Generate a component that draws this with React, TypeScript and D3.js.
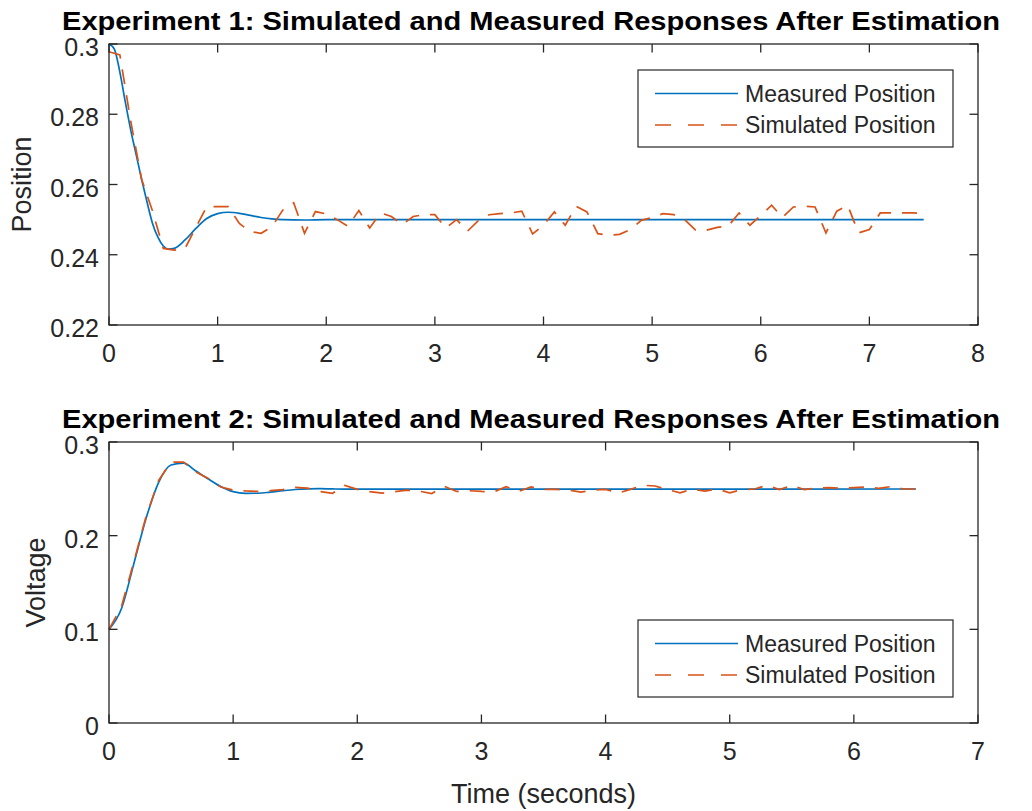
import React from "react";
import * as d3 from "d3";

const W = 1032;
const H = 811;
const DT = 0.1; // sample interval (s) of the sampled series

// ---- Experiment 1 ----
const exp1MeasuredT = [0, 0.05, 0.1, 0.15, 0.2, 0.25, 0.3, 0.35, 0.4, 0.45, 0.5, 0.55, 0.6, 0.7, 0.8, 0.9, 1.0, 1.1, 1.2, 1.3, 1.4, 1.5, 1.6, 1.8, 2.0, 7.5];
const exp1MeasuredV = [0.3, 0.2985, 0.292, 0.2835, 0.2755, 0.2685, 0.2615, 0.255, 0.249, 0.245, 0.2425, 0.2416, 0.2418, 0.2442, 0.2475, 0.2503, 0.2517, 0.2521, 0.2518, 0.2512, 0.2506, 0.2502, 0.25, 0.2499, 0.25, 0.25];
const exp1Simulated = [
  0.2978, 0.2969, 0.278, 0.2615, 0.2525, 0.2418, 0.2413, 0.2418, 0.2478, 0.2537,
  0.2537, 0.2537, 0.2489, 0.2466, 0.2461, 0.248, 0.2527, 0.2548, 0.2461, 0.2523,
  0.2516, 0.25, 0.2481, 0.2526, 0.2476, 0.2519, 0.2509, 0.2486, 0.2509, 0.2514,
  0.2514, 0.2476, 0.25, 0.2467, 0.2497, 0.2514, 0.2517, 0.2519, 0.2524, 0.2459,
  0.2484, 0.2522, 0.2484, 0.2538, 0.2522, 0.246, 0.2455, 0.2458, 0.2472, 0.2498,
  0.2506, 0.2517, 0.2514, 0.25, 0.247, 0.247, 0.2478, 0.2481, 0.2519, 0.2484,
  0.2512, 0.2541, 0.2506, 0.2536, 0.2538, 0.2536, 0.2462, 0.2524, 0.2541, 0.2462,
  0.2472, 0.2519, 0.2519, 0.2519, 0.2519, 0.2517,
];
const exp1XTicks = [0, 1, 2, 3, 4, 5, 6, 7, 8];
const exp1YTicks = [0.22, 0.24, 0.26, 0.28, 0.3];
const exp1YTickLabels = ["0.22", "0.24", "0.26", "0.28", "0.3"];

// ---- Experiment 2 ----
const exp2MeasuredT = [0, 0.1, 0.2, 0.3, 0.4, 0.5, 0.6, 0.7, 0.8, 0.9, 1.0, 1.1, 1.2, 1.3, 1.4, 1.5, 1.6, 1.7, 1.8, 1.9, 2.0, 6.5];
const exp2MeasuredV = [0.1, 0.122, 0.17, 0.219, 0.257, 0.2755, 0.2775, 0.269, 0.2605, 0.2525, 0.247, 0.2452, 0.2453, 0.2465, 0.248, 0.2493, 0.25, 0.2502, 0.2499, 0.2497, 0.2497, 0.2498];
const exp2Simulated = [
  0.1, 0.124, 0.172, 0.221, 0.259, 0.2785, 0.2785, 0.268, 0.261, 0.252,
  0.2487, 0.2478, 0.2472, 0.248, 0.2492, 0.2515, 0.2508, 0.247, 0.2452, 0.2537,
  0.2494, 0.247, 0.2455, 0.247, 0.2487, 0.2475, 0.245, 0.2528, 0.2472, 0.248,
  0.2472, 0.2468, 0.2522, 0.2472, 0.252, 0.2494, 0.2494, 0.2487, 0.2465, 0.2487,
  0.2494, 0.2455, 0.2494, 0.2538, 0.253, 0.2491, 0.2458, 0.2498, 0.2475, 0.2498,
  0.2458, 0.2491, 0.2498, 0.2538, 0.2491, 0.2538, 0.2491, 0.2509, 0.2512, 0.2505,
  0.2512, 0.2519, 0.2505, 0.2524, 0.2498, 0.2498,
];
const exp2XTicks = [0, 1, 2, 3, 4, 5, 6, 7];
const exp2YTicks = [0, 0.1, 0.2, 0.3];
const exp2YTickLabels = ["0", "0.1", "0.2", "0.3"];

const legendLabels = ["Measured Position", "Simulated Position"];

const BLUE = "#0072BD";
const ORANGE = "#D95319";
const AX = "#262626";
const FONT = "'Liberation Sans', Arial, Helvetica, sans-serif";

type PanelProps = {
  top: number;
  xMax: number;
  yDomain: [number, number];
  xTicks: number[];
  yTicks: number[];
  yTickLabels: string[];
  title: string;
  ylabel: string;
  ylabelX: number;
  measT: number[];
  measV: number[];
  sim: number[];
  legendTop: number;
  smoothMeas: boolean;
};

function Panel(p: PanelProps) {
  const left = 109;
  const right = 978;
  const height = 281;
  const bottom = p.top + height;
  const x = d3.scaleLinear().domain([0, p.xMax]).range([left, right]);
  const y = d3.scaleLinear().domain(p.yDomain).range([bottom, p.top]);
  const measPts: [number, number][] = p.measT.map((t, i) => [t, p.measV[i]]);
  const simPts: [number, number][] = p.sim.map((v, i) => [i * DT, v]);
  const lineMeas = d3
    .line<[number, number]>()
    .x((d) => x(d[0]))
    .y((d) => y(d[1]))
    .curve(p.smoothMeas ? d3.curveMonotoneX : d3.curveLinear);
  const lineSim = d3
    .line<[number, number]>()
    .x((d) => x(d[0]))
    .y((d) => y(d[1]));
  const tl = 8.5;
  const lgX = 638;
  const lgW = 315;
  const lgH = 77;
  const row1 = p.legendTop + 23.5;
  const row2 = p.legendTop + 55;
  return (
    <g>
      <text
        x={62}
        y={p.top - 14}
        fontFamily={FONT}
        fontWeight="bold"
        fontSize={25}
        fill="#000"
        textLength={938}
        lengthAdjust="spacingAndGlyphs"
      >
        {p.title}
      </text>
      <rect x={left} y={p.top} width={right - left} height={height} fill="#fff" />
      <path d={lineMeas(measPts) || ""} fill="none" stroke={BLUE} strokeWidth={1.7} />
      <path
        d={lineSim(simPts) || ""}
        fill="none"
        stroke={ORANGE}
        strokeWidth={1.7}
        strokeDasharray="15 11"
      />
      <rect x={left} y={p.top} width={right - left} height={height} fill="none" stroke={AX} strokeWidth={1.3} />
      {p.xTicks.map((t) => (
        <g key={"x" + t}>
          <line x1={x(t)} x2={x(t)} y1={bottom} y2={bottom - tl} stroke={AX} strokeWidth={1.3} />
          <line x1={x(t)} x2={x(t)} y1={p.top} y2={p.top + tl} stroke={AX} strokeWidth={1.3} />
          <text
            x={x(t)}
            y={bottom + 37}
            textAnchor="middle"
            fontFamily={FONT}
            fontSize={25}
            fill={AX}
          >
            {String(t)}
          </text>
        </g>
      ))}
      {p.yTicks.map((t, i) => (
        <g key={"y" + t}>
          <line x1={left} x2={left + tl} y1={y(t)} y2={y(t)} stroke={AX} strokeWidth={1.3} />
          <line x1={right} x2={right - tl} y1={y(t)} y2={y(t)} stroke={AX} strokeWidth={1.3} />
          <text
            x={99}
            y={y(t) + 3}
            textAnchor="end"
            dominantBaseline="central"
            fontFamily={FONT}
            fontSize={25}
            fill={AX}
          >
            {p.yTickLabels[i]}
          </text>
        </g>
      ))}
      <text
        transform={`translate(${p.ylabelX},${(p.top + bottom) / 2}) rotate(-90)`}
        textAnchor="middle"
        dominantBaseline="central"
        fontFamily={FONT}
        fontSize={27}
        fill={AX}
      >
        {p.ylabel}
      </text>
      <rect x={lgX} y={p.legendTop} width={lgW} height={lgH} fill="#fff" stroke={AX} strokeWidth={1.2} />
      <line x1={655} x2={738} y1={row1} y2={row1} stroke={BLUE} strokeWidth={1.7} />
      <line x1={655} x2={738} y1={row2} y2={row2} stroke={ORANGE} strokeWidth={1.7} strokeDasharray="16 17" />
      <text x={745} y={row1} dominantBaseline="central" fontFamily={FONT} fontSize={23} fill={AX}>
        {legendLabels[0]}
      </text>
      <text x={745} y={row2} dominantBaseline="central" fontFamily={FONT} fontSize={23} fill={AX}>
        {legendLabels[1]}
      </text>
    </g>
  );
}

export default function App() {
  return (
    <svg
      width={W}
      height={H}
      style={{ position: "absolute", left: 0, top: 0, background: "#fff" }}
    >
      <rect x={0} y={0} width={W} height={H} fill="#fff" />
      <Panel
        top={44}
        xMax={8}
        yDomain={[0.22, 0.3]}
        xTicks={exp1XTicks}
        yTicks={exp1YTicks}
        yTickLabels={exp1YTickLabels}
        title="Experiment 1: Simulated and Measured Responses After Estimation"
        ylabel="Position"
        ylabelX={22}
        measT={exp1MeasuredT}
        measV={exp1MeasuredV}
        sim={exp1Simulated}
        legendTop={70}
        smoothMeas={true}
      />
      <Panel
        top={442}
        xMax={7}
        yDomain={[0, 0.3]}
        xTicks={exp2XTicks}
        yTicks={exp2YTicks}
        yTickLabels={exp2YTickLabels}
        title="Experiment 2: Simulated and Measured Responses After Estimation"
        ylabel="Voltage"
        ylabelX={36}
        measT={exp2MeasuredT}
        measV={exp2MeasuredV}
        sim={exp2Simulated}
        legendTop={620}
        smoothMeas={true}
      />
      <text
        x={543.5}
        y={794}
        textAnchor="middle"
        dominantBaseline="central"
        fontFamily={FONT}
        fontSize={27}
        fill={AX}
      >
        Time (seconds)
      </text>
    </svg>
  );
}
